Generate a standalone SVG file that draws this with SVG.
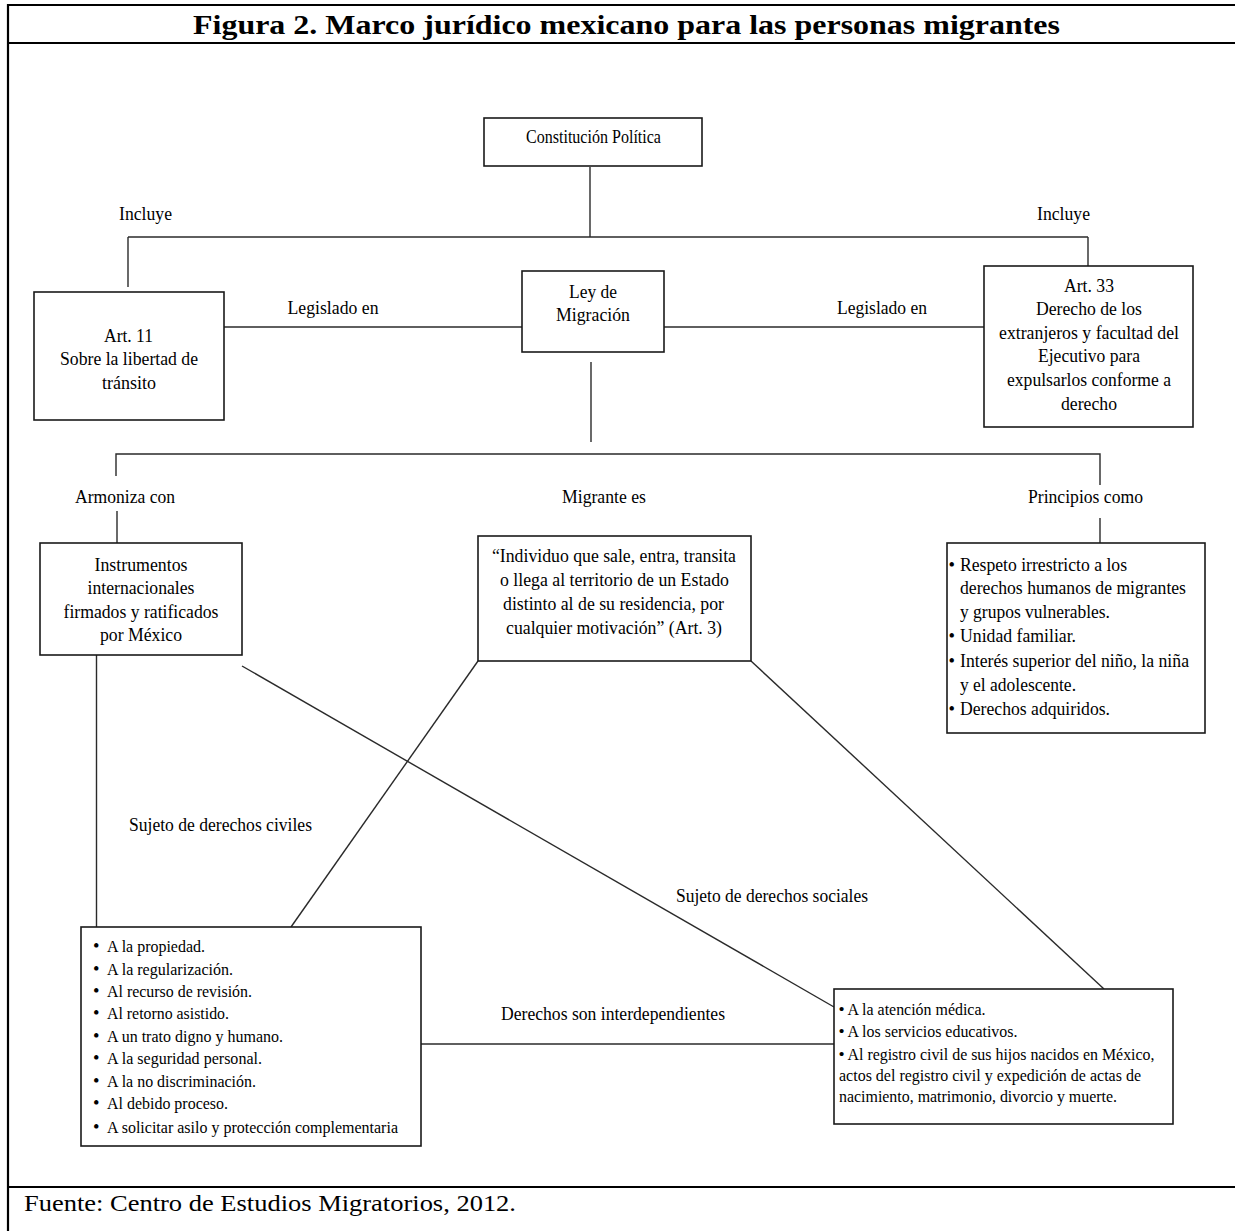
<svg xmlns="http://www.w3.org/2000/svg" width="1235" height="1231" viewBox="0 0 1235 1231">
<style>
.frame{stroke:#000;stroke-width:2.2;fill:none}
.box{fill:#fff;stroke:#1a1a1a;stroke-width:1.6}
.c{stroke:#2a2a2a;stroke-width:1.4;fill:none}
text{font-family:"Liberation Serif","Times New Roman",Tinos,serif;fill:#000;font-size:18.5px}
.m{text-anchor:middle}
.s{font-size:17.5px}
.title{font-size:28px;font-weight:bold;fill:#000}
.foot{font-size:23px;fill:#000}
</style>
<rect x="0" y="0" width="1235" height="1231" fill="#fff"/>
<g id="frame">
<line class="frame" x1="8" y1="5" x2="1235" y2="5"/>
<line class="frame" x1="8" y1="4" x2="8" y2="1231"/>
<line class="frame" x1="8" y1="43" x2="1235" y2="43"/>
<line class="frame" x1="8" y1="1187" x2="1235" y2="1187"/>
<text class="title" x="193" y="34" textLength="867" lengthAdjust="spacingAndGlyphs">Figura 2. Marco jurídico mexicano para las personas migrantes</text>
<text class="foot" x="24" y="1211" textLength="492" lengthAdjust="spacingAndGlyphs">Fuente: Centro de Estudios Migratorios, 2012.</text>
</g>
<g id="connectors">
<line class="c" x1="590" y1="167" x2="590" y2="237"/>
<line class="c" x1="128" y1="237" x2="1088" y2="237"/>
<line class="c" x1="128" y1="237" x2="128" y2="287"/>
<line class="c" x1="1088" y1="237" x2="1088" y2="266"/>
<line class="c" x1="224" y1="327" x2="522" y2="327"/>
<line class="c" x1="664" y1="327" x2="984" y2="327"/>
<line class="c" x1="591" y1="362" x2="591" y2="442"/>
<polyline class="c" points="116,476 116,454 1100,454 1100,485"/>
<line class="c" x1="117" y1="511" x2="117" y2="543"/>
<line class="c" x1="1100" y1="518" x2="1100" y2="543"/>
<line class="c" x1="96.5" y1="655" x2="96.5" y2="927"/>
<line class="c" x1="242" y1="666" x2="834" y2="1007"/>
<line class="c" x1="478" y1="661" x2="291" y2="927"/>
<line class="c" x1="751" y1="661" x2="1104" y2="989"/>
<line class="c" x1="421" y1="1044" x2="834" y2="1044"/>
<text x="145.5" y="220" class="m" textLength="53" lengthAdjust="spacingAndGlyphs">Incluye</text>
<text x="1063.5" y="220" class="m" textLength="53" lengthAdjust="spacingAndGlyphs">Incluye</text>
<text x="333" y="314" class="m" textLength="91" lengthAdjust="spacingAndGlyphs">Legislado en</text>
<text x="882" y="314" class="m" textLength="90" lengthAdjust="spacingAndGlyphs">Legislado en</text>
<text x="125" y="503" class="m" textLength="100" lengthAdjust="spacingAndGlyphs">Armoniza con</text>
<text x="604" y="503" class="m" textLength="84" lengthAdjust="spacingAndGlyphs">Migrante es</text>
<text x="1085.5" y="503" class="m" textLength="115" lengthAdjust="spacingAndGlyphs">Principios como</text>
<text x="129" y="831" textLength="183" lengthAdjust="spacingAndGlyphs">Sujeto de derechos civiles</text>
<text x="676" y="902" textLength="192" lengthAdjust="spacingAndGlyphs">Sujeto de derechos sociales</text>
<text x="501" y="1020" textLength="224" lengthAdjust="spacingAndGlyphs">Derechos son interdependientes</text>
</g>
<g id="constitucion">
<rect class="box" x="484" y="118" width="218" height="48"/>
<text x="593.5" y="143" class="m" textLength="135" lengthAdjust="spacingAndGlyphs">Constitución Política</text>
</g>
<g id="art11">
<rect class="box" x="34" y="292" width="190" height="128"/>
<text x="128.5" y="342" class="m" textLength="49" lengthAdjust="spacingAndGlyphs">Art. 11</text>
<text x="129" y="365" class="m" textLength="138" lengthAdjust="spacingAndGlyphs">Sobre la libertad de</text>
<text x="129" y="389" class="m" textLength="54" lengthAdjust="spacingAndGlyphs">tránsito</text>
</g>
<g id="ley">
<rect class="box" x="522" y="271" width="142" height="81"/>
<text x="593" y="298" class="m" textLength="48" lengthAdjust="spacingAndGlyphs">Ley de</text>
<text x="593" y="321" class="m" textLength="74" lengthAdjust="spacingAndGlyphs">Migración</text>
</g>
<g id="art33">
<rect class="box" x="984" y="266" width="209" height="161"/>
<text x="1089" y="292" class="m" textLength="50" lengthAdjust="spacingAndGlyphs">Art. 33</text>
<text x="1089" y="315" class="m" textLength="106" lengthAdjust="spacingAndGlyphs">Derecho de los</text>
<text x="1089" y="339" class="m" textLength="180" lengthAdjust="spacingAndGlyphs">extranjeros y facultad del</text>
<text x="1089" y="362" class="m" textLength="102" lengthAdjust="spacingAndGlyphs">Ejecutivo para</text>
<text x="1089" y="386" class="m" textLength="164" lengthAdjust="spacingAndGlyphs">expulsarlos conforme a</text>
<text x="1089" y="410" class="m" textLength="56" lengthAdjust="spacingAndGlyphs">derecho</text>
</g>
<g id="instrumentos">
<rect class="box" x="40" y="543" width="202" height="112"/>
<text x="141" y="571" class="m" textLength="93" lengthAdjust="spacingAndGlyphs">Instrumentos</text>
<text x="141" y="594" class="m" textLength="107" lengthAdjust="spacingAndGlyphs">internacionales</text>
<text x="141" y="618" class="m" textLength="155" lengthAdjust="spacingAndGlyphs">firmados y ratificados</text>
<text x="141" y="641" class="m" textLength="82" lengthAdjust="spacingAndGlyphs">por México</text>
</g>
<g id="migrante">
<rect class="box" x="478" y="536" width="273" height="125"/>
<text x="614" y="562" class="m" textLength="244" lengthAdjust="spacingAndGlyphs">“Individuo que sale, entra, transita</text>
<text x="614.5" y="586" class="m" textLength="229" lengthAdjust="spacingAndGlyphs">o llega al territorio de un Estado</text>
<text x="613.5" y="610" class="m" textLength="221" lengthAdjust="spacingAndGlyphs">distinto al de su residencia, por</text>
<text x="614" y="634" class="m" textLength="216" lengthAdjust="spacingAndGlyphs">cualquier motivación” (Art. 3)</text>
</g>
<g id="principios">
<rect class="box" x="947" y="543" width="258" height="190"/>
<text x="948.5" y="571">•</text>
<text x="948.5" y="642">•</text>
<text x="948.5" y="667">•</text>
<text x="948.5" y="715">•</text>
<text x="960" y="571" textLength="167" lengthAdjust="spacingAndGlyphs">Respeto irrestricto a los</text>
<text x="960" y="594" textLength="226" lengthAdjust="spacingAndGlyphs">derechos humanos de migrantes</text>
<text x="960" y="618" textLength="150" lengthAdjust="spacingAndGlyphs">y grupos vulnerables.</text>
<text x="960" y="642" textLength="116" lengthAdjust="spacingAndGlyphs">Unidad familiar.</text>
<text x="960" y="667" textLength="229" lengthAdjust="spacingAndGlyphs">Interés superior del niño, la niña</text>
<text x="960" y="691" textLength="116" lengthAdjust="spacingAndGlyphs">y el adolescente.</text>
<text x="960" y="715" textLength="150" lengthAdjust="spacingAndGlyphs">Derechos adquiridos.</text>
</g>
<g id="civiles">
<rect class="box" x="81" y="927" width="340" height="219"/>
<g font-size="17">
<text x="93" y="952">•</text>
<text x="93" y="975">•</text>
<text x="93" y="997">•</text>
<text x="93" y="1019">•</text>
<text x="93" y="1042">•</text>
<text x="93" y="1064">•</text>
<text x="93" y="1087">•</text>
<text x="93" y="1109">•</text>
<text x="93" y="1133">•</text>
</g>
<text class="s" x="107" y="952" textLength="98" lengthAdjust="spacingAndGlyphs">A la propiedad.</text>
<text class="s" x="107" y="975" textLength="126" lengthAdjust="spacingAndGlyphs">A la regularización.</text>
<text class="s" x="107" y="997" textLength="145" lengthAdjust="spacingAndGlyphs">Al recurso de revisión.</text>
<text class="s" x="107" y="1019" textLength="122" lengthAdjust="spacingAndGlyphs">Al retorno asistido.</text>
<text class="s" x="107" y="1042" textLength="176" lengthAdjust="spacingAndGlyphs">A un trato digno y humano.</text>
<text class="s" x="107" y="1064" textLength="155" lengthAdjust="spacingAndGlyphs">A la seguridad personal.</text>
<text class="s" x="107" y="1087" textLength="149" lengthAdjust="spacingAndGlyphs">A la no discriminación.</text>
<text class="s" x="107" y="1109" textLength="121" lengthAdjust="spacingAndGlyphs">Al debido proceso.</text>
<text class="s" x="107" y="1133" textLength="291" lengthAdjust="spacingAndGlyphs">A solicitar asilo y protección complementaria</text>
</g>
<g id="sociales">
<rect class="box" x="834" y="989" width="339" height="135"/>
<text class="s" x="838.5" y="1015">•</text>
<text class="s" x="838.5" y="1037">•</text>
<text class="s" x="838.5" y="1060">•</text>
<text class="s" x="847.5" y="1015" textLength="138" lengthAdjust="spacingAndGlyphs">A la atención médica.</text>
<text class="s" x="847.5" y="1037" textLength="170" lengthAdjust="spacingAndGlyphs">A los servicios educativos.</text>
<text class="s" x="847.5" y="1060" textLength="307" lengthAdjust="spacingAndGlyphs">Al registro civil de sus hijos nacidos en México,</text>
<text class="s" x="839" y="1081" textLength="302" lengthAdjust="spacingAndGlyphs">actos del registro civil y expedición de actas de</text>
<text class="s" x="839" y="1102" textLength="278" lengthAdjust="spacingAndGlyphs">nacimiento, matrimonio, divorcio y muerte.</text>
</g>
</svg>
